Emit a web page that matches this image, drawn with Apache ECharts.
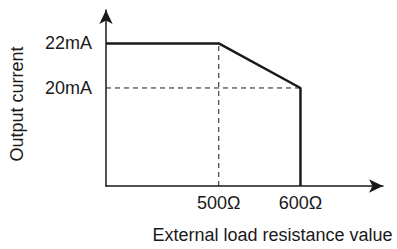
<!DOCTYPE html>
<html>
<head>
<meta charset="utf-8">
<style>
  html, body { margin: 0; padding: 0; background: #fff; }
  #chart { width: 397px; height: 249px; }
</style>
<script src="https://cdn.jsdelivr.net/npm/echarts@6/dist/echarts.min.js"></script>
</head>
<body>
<div id="chart"></div>
<script>
// curve: constant current up to 500 ohm, drops to 20mA at 600 ohm, then cut off
var resistance = [362, 500, 600, 600];
var current = [22, 22, 20, 15.6];
var xTicks = [500, 600];
var yTicks = [20, 22];

var ink = '#1a1a1a';
var font = 'Liberation Sans, Arial, sans-serif';

var chart = echarts.init(document.getElementById('chart'), null, { renderer: 'svg' });
chart.setOption({
  animation: false,
  grid: { left: 105, right: 14, top: 10, bottom: 61 },
  xAxis: {
    type: 'value',
    min: 362,
    max: 701,
    name: 'External load resistance value',
    nameLocation: 'middle',
    nameGap: 40,
    nameTextStyle: { color: ink, fontSize: 18, fontFamily: font, padding: [0, 0, 0, 56] },
    axisLine: { show: true, symbol: ['none', 'arrow'], symbolSize: [10, 14], lineStyle: { color: ink, width: 1.5 } },
    axisTick: { show: false },
    splitLine: { show: false },
    axisLabel: {
      customValues: xTicks,
      color: ink, fontSize: 18, fontFamily: font, margin: 8,
      formatter: function (v) { return v + 'Ω'; }
    }
  },
  yAxis: {
    type: 'value',
    min: 15.6,
    max: 23.5,
    name: 'Output current',
    nameLocation: 'middle',
    nameGap: 80,
    nameRotate: 90,
    nameTextStyle: { color: ink, fontSize: 18, fontFamily: font, padding: [0, 12, 0, 0] },
    axisLine: { show: true, symbol: ['none', 'arrow'], symbolSize: [10, 14], lineStyle: { color: ink, width: 1.5 } },
    axisTick: { show: false },
    splitLine: { show: false },
    axisLabel: {
      customValues: yTicks,
      color: ink, fontSize: 18, fontFamily: font, margin: 14,
      formatter: function (v) { return v + 'mA'; }
    }
  },
  series: [
    {
      type: 'line',
      data: resistance.map(function (r, i) { return [r, current[i]]; }),
      symbol: 'none',
      lineStyle: { color: ink, width: 2.5 },
      z: 3
    },
    {
      // dashed guide at 20mA
      type: 'line',
      data: [[362, yTicks[0]], [xTicks[1], yTicks[0]]],
      symbol: 'none',
      lineStyle: { color: ink, width: 1, type: [5, 4] }
    },
    {
      // dashed guide at 500 ohm
      type: 'line',
      data: [[xTicks[0], 15.6], [xTicks[0], yTicks[1]]],
      symbol: 'none',
      lineStyle: { color: ink, width: 1, type: [5, 4] }
    }
  ]
});
</script>
</body>
</html>
